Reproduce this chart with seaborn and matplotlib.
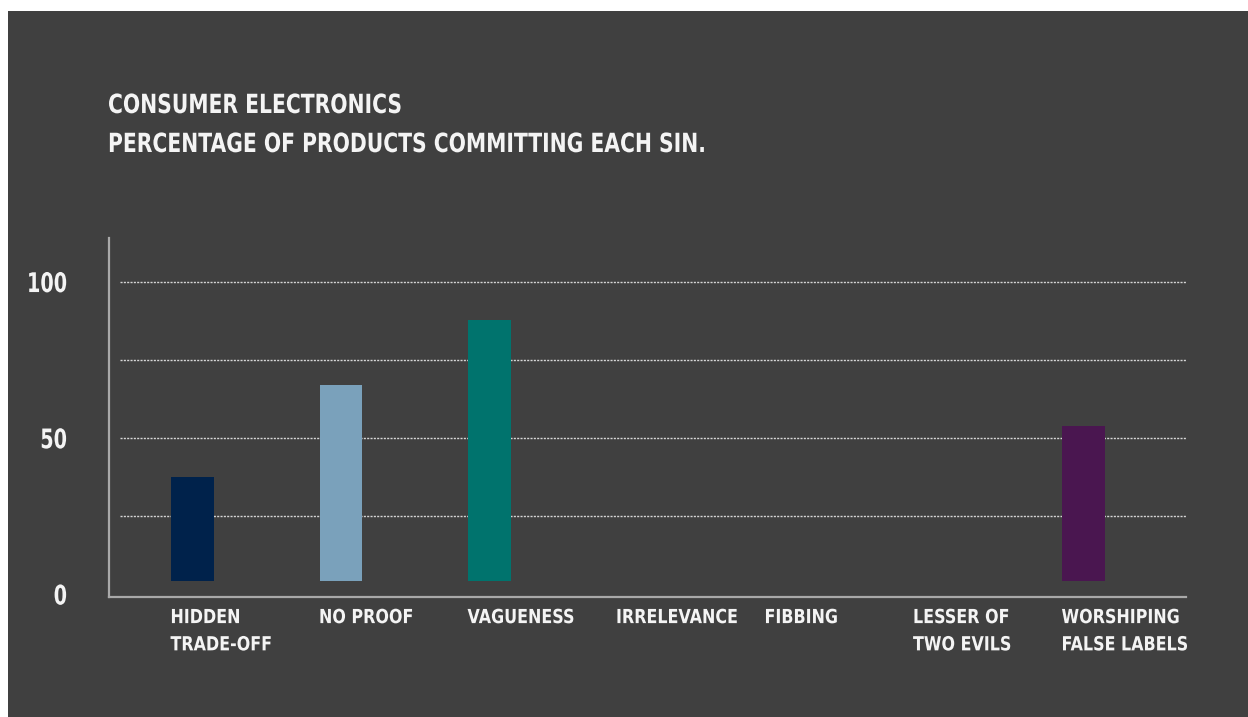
import numpy as np
import pandas as pd
import matplotlib
matplotlib.use("Agg")
import matplotlib.pyplot as plt
import matplotlib.transforms as mtransforms
from matplotlib.patches import Rectangle
from matplotlib.patheffects import AbstractPathEffect
import seaborn as sns

# Sins of greenwashing, consumer electronics
categories = ["HIDDEN\nTRADE-OFF", "NO PROOF", "VAGUENESS", "IRRELEVANCE",
              "FIBBING", "LESSER OF\nTWO EVILS", "WORSHIPING\nFALSE LABELS"]
percentages = [37.5, 67, 88, 0, 0, 0, 54]
bar_colors = ["#00224b", "#7aa1bb", "#00736d", "#404040",
              "#404040", "#404040", "#4a1650"]
y_ticks = [0, 50, 100]
grid_levels = [25, 50, 75, 100]
title_lines = ["CONSUMER ELECTRONICS", "PERCENTAGE OF PRODUCTS COMMITTING EACH SIN."]

BG = "#404040"
FG = "#f4f4f4"
AXIS_GREY = "#a9a9a9"
BAR_FLOOR = 4.2  # bars float slightly above the baseline


class Squeeze(AbstractPathEffect):
    """Draw text horizontally condensed, pinned at its left or right edge."""

    def __init__(self, sx, anchor="left"):
        super().__init__()
        self.sx = sx
        self.anchor = anchor

    def draw_path(self, renderer, gc, tpath, affine, rgbFace=None):
        verts = affine.transform(tpath.vertices)
        if len(verts) == 0:
            return
        x0 = verts[:, 0].min() if self.anchor == "left" else verts[:, 0].max()
        squeeze = mtransforms.Affine2D().translate(-x0, 0).scale(self.sx, 1).translate(x0, 0)
        renderer.draw_path(gc, tpath, affine + squeeze, rgbFace)


sns.set_theme(style="white")
plt.rcParams["font.family"] = ["DejaVu Sans"]
plt.rcParams["font.weight"] = "bold"

W, H = 1248, 717
fig = plt.figure(figsize=(W / 100, H / 100), dpi=100, facecolor=BG)
# thin white margin on the top and left edges
fig.patches.append(Rectangle((0, 0), 8 / W, 1, transform=fig.transFigure,
                             facecolor="white", edgecolor="none", zorder=-1))
fig.patches.append(Rectangle((0, 1 - 11 / H), 1, 11 / H, transform=fig.transFigure,
                             facecolor="white", edgecolor="none", zorder=-1))

left, right, top, bottom = 109, 1186, 238, 597
ax = fig.add_axes([left / W, 1 - bottom / H, (right - left) / W, (bottom - top) / H])
ax.set_facecolor(BG)

df = pd.DataFrame({"sin": categories, "pct": percentages})
df["height"] = np.clip(df["pct"] - BAR_FLOOR, 0, None)

sns.barplot(data=df, x="sin", y="height", hue="sin", palette=bar_colors,
            order=categories, hue_order=categories, legend=False,
            width=0.285, bottom=BAR_FLOOR, linewidth=0, saturation=1, ax=ax, zorder=3)

ax.set_xlim(-0.562, 6.69)
ax.set_ylim(-0.8, 114.1)

# dotted guide lines
ax.hlines(grid_levels, xmin=11 / (right - left), xmax=1,
          transform=ax.get_yaxis_transform(), colors="#d6d6d6",
          linewidth=1.0, linestyles=(0, (1.5, 0.9)), zorder=1)

for side in ["top", "right"]:
    ax.spines[side].set_visible(False)
for side in ["left", "bottom"]:
    ax.spines[side].set_color(AXIS_GREY)
    ax.spines[side].set_linewidth(1.6)

ax.set_yticks(y_ticks)
ax.set_yticklabels([str(v) for v in y_ticks], fontsize=19.5, color=FG, fontweight="bold")
ax.tick_params(axis="y", length=0, pad=30)
for lbl in ax.get_yticklabels():
    lbl.set_path_effects([Squeeze(0.71, anchor="right")])

ax.set_xticks(range(len(categories)))
ax.set_xticklabels(categories, fontsize=14, color=FG, fontweight="bold",
                   ha="left", va="top", linespacing=1.55)
ax.tick_params(axis="x", length=0, pad=8)
shift = mtransforms.ScaledTranslation(-22 / 100, 0, fig.dpi_scale_trans)
for lbl in ax.get_xticklabels():
    lbl.set_transform(lbl.get_transform() + shift)
    lbl.set_path_effects([Squeeze(0.82)])

ax.set_xlabel("")
ax.set_ylabel("")

for text, baseline in zip(title_lines, [113, 152]):
    t = fig.text(108 / W, 1 - baseline / H, text, fontsize=19, color=FG,
                 fontweight="bold", ha="left", va="baseline")
    t.set_path_effects([Squeeze(0.77)])

fig.savefig("out.png", dpi=100, facecolor=BG)
